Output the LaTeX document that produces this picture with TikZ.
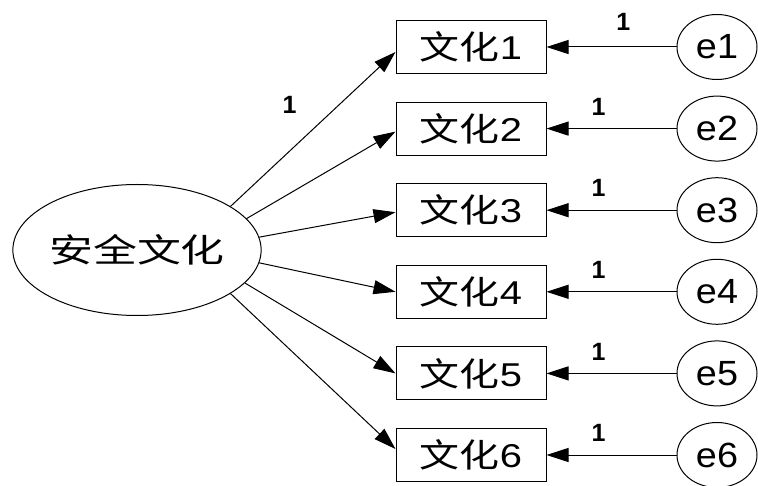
\documentclass[tikz,border=0pt]{standalone}
\usepackage{fontspec}
\setmainfont{Liberation Sans}
\newfontfamily\cjk{Noto Sans CJK SC}
\usetikzlibrary{arrows.meta, positioning, shapes.geometric}

\newcommand{\hwide}[2]{\scalebox{#1}[1]{#2}}

\begin{document}
\begin{tikzpicture} [x = 1pt, y = -1pt, node distance = 81.6pt, on grid,
  latent/.style = {draw, ellipse, line width = 1pt, inner sep = 0pt,
    minimum width = 248pt, minimum height = 131pt,
    font = \fontsize{33}{33}\selectfont},
  obs/.style = {draw, rectangle, line width = 1pt, inner sep = 0pt,
    minimum width = 150pt, minimum height = 53pt,
    font = \fontsize{33}{33}\selectfont},
  err/.style = {draw, ellipse, line width = 1pt, inner sep = 0pt,
    minimum width = 80pt, minimum height = 65pt,
    font = \fontsize{35}{35}\selectfont},
  one/.style = {font = \fontsize{25}{25}\selectfont\bfseries, inner sep = 1pt},
  arr/.style = {-{Triangle[length = 22pt, width = 14pt]}, line width = 1pt}]

\useasboundingbox (0,0) rectangle (758,486);

\node (lat) [latent] at (137,250) {\hwide{1.33}{\cjk 安全文化}};

% indicators
\node (b1) [obs] at (471,47) {\hwide{1.21}{{\cjk 文化}1}};
\node (b2) [obs, below = of b1] {\hwide{1.21}{{\cjk 文化}2}};
\node (b3) [obs, below = of b2] {\hwide{1.21}{{\cjk 文化}3}};
\node (b4) [obs, below = of b3] {\hwide{1.21}{{\cjk 文化}4}};
\node (b5) [obs, below = of b4] {\hwide{1.21}{{\cjk 文化}5}};
\node (b6) [obs, below = of b5] {\hwide{1.21}{{\cjk 文化}6}};

% errors
\node (e1) [err, right = 246pt of b1] {\hwide{1.08}{e1}};
\node (e2) [err, right = 246pt of b2] {\hwide{1.08}{e2}};
\node (e3) [err, right = 246pt of b3] {\hwide{1.08}{e3}};
\node (e4) [err, right = 246pt of b4] {\hwide{1.08}{e4}};
\node (e5) [err, right = 246pt of b5] {\hwide{1.08}{e5}};
\node (e6) [err, right = 246pt of b6] {\hwide{1.08}{e6}};

% loadings
\path [arr]
  (lat.25) edge node [one, pos = 0.6, xshift = -40pt, yshift = 9pt] {1} ([yshift = -5pt]b1.west);
\path [arr]
  (lat.16) edge ([yshift = -3pt]b2.west);
\path [arr]
  (lat.6) edge ([yshift = -2pt]b3.west);
\path [arr]
  (lat.-6) edge (b4.west);
\path [arr]
  (lat.-17) edge (b5.west);
\path [arr]
  (lat.-25) edge ([yshift = 6pt]b6.west);

% error paths
\path [arr]
  (e1) edge node [one, pos = 0.41, yshift = 25pt] {1} (b1);
\path [arr]
  (e2) edge node [one, pos = 0.6, yshift = 22pt] {1} (b2);
\path [arr]
  (e3) edge node [one, pos = 0.6, yshift = 22pt] {1} (b3);
\path [arr]
  (e4) edge node [one, pos = 0.6, yshift = 22pt] {1} (b4);
\path [arr]
  (e5) edge node [one, pos = 0.6, yshift = 22pt] {1} (b5);
\path [arr]
  (e6) edge node [one, pos = 0.6, yshift = 22pt] {1} (b6);
\end{tikzpicture}
\end{document}
